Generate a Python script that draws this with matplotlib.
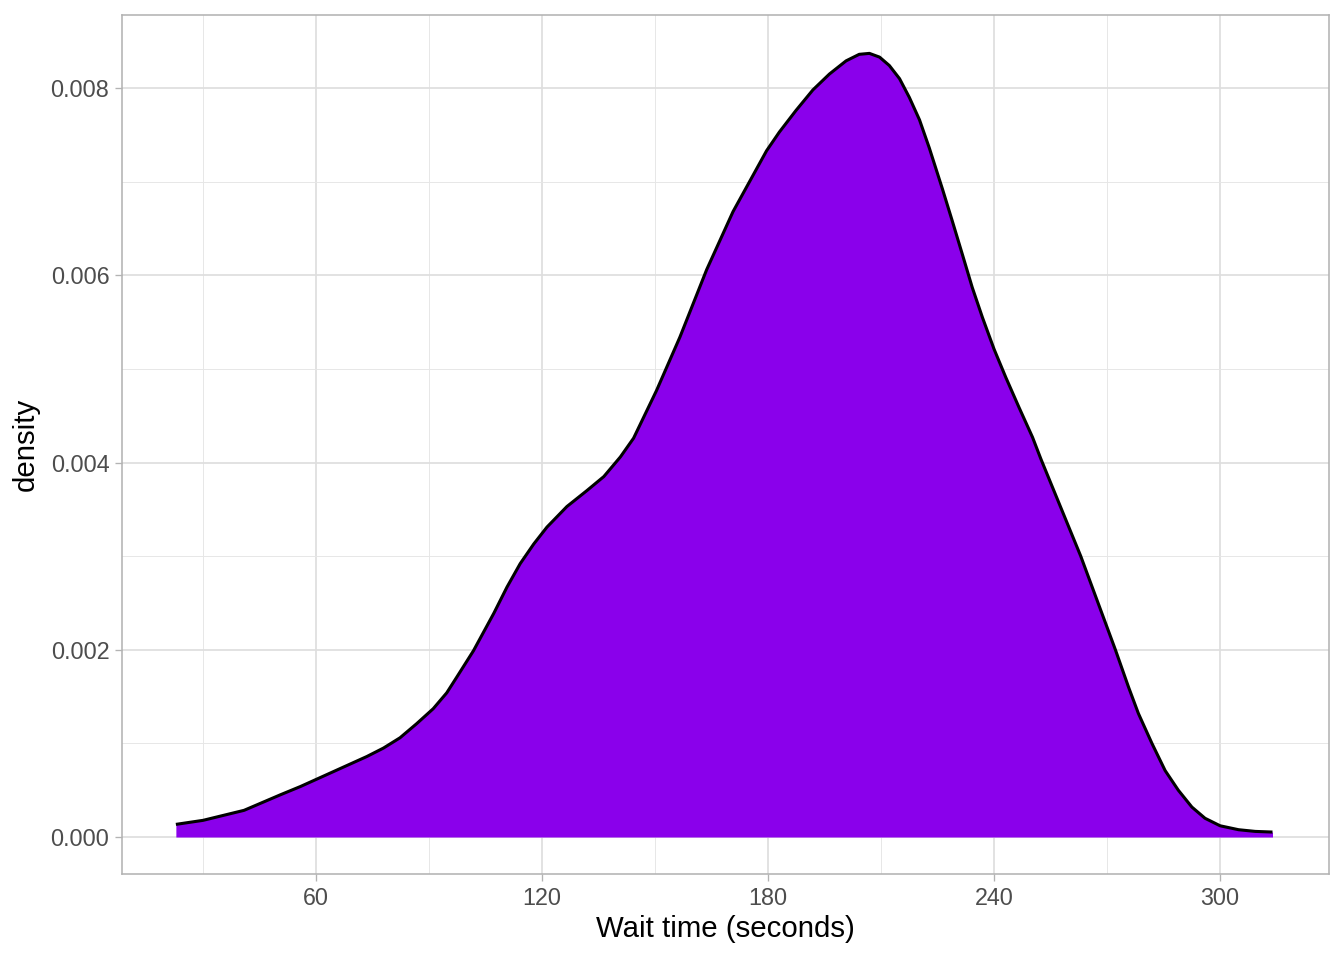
import matplotlib
matplotlib.use("Agg")
import matplotlib.pyplot as plt
from matplotlib.ticker import FixedLocator

# Density curve
wait_time = [22.8, 30, 40.9, 50.6, 55.9, 60.3, 64.7, 69.1, 73.5, 77.9, 82.3,
             86.7, 91.1, 94.7, 97.4, 101.8, 107.2, 110.7, 114.2, 117.8, 121.3,
             126.6, 131.9, 136.4, 140.8, 144.3, 150.4, 156.6, 163.7, 170.7,
             179.6, 183, 187.4, 191.9, 196.3, 200.7, 204.2, 206.9, 209.6, 212.2,
             214.9, 217.5, 220.2, 222.8, 226.3, 228.9, 231.6, 234.2, 236.9, 240,
             243.1, 246.6, 250.2, 252.4, 263, 272.2, 275.7, 278.3, 281.9, 285.4,
             288.9, 292.5, 296, 300, 304.9, 309.3, 313.9]
density = [0.000135, 0.000178, 0.000285, 0.000452, 0.00054, 0.00062, 0.00070,
           0.00078, 0.00086, 0.00095, 0.00106, 0.00121, 0.00137, 0.00154,
           0.00171, 0.00199, 0.00239, 0.00267, 0.00292, 0.00313, 0.00331,
           0.00353, 0.00370, 0.00385, 0.00406, 0.00426, 0.00477, 0.00534,
           0.00606, 0.00668, 0.00733, 0.00753, 0.00776, 0.00798, 0.00815,
           0.00829, 0.00836, 0.00837, 0.00833, 0.00824, 0.00810, 0.00790,
           0.00766, 0.00736, 0.00692, 0.00658, 0.00622, 0.00587, 0.00555,
           0.00521, 0.00491, 0.00459, 0.00427, 0.00404, 0.00300, 0.00200,
           0.00160, 0.00132, 0.00100, 0.00071, 0.00050, 0.00032, 0.00020,
           0.00012, 0.000078, 0.00006, 0.000053]

x_major = [60, 120, 180, 240, 300]
x_minor = [30, 90, 150, 210, 270]
y_major = [0.000, 0.002, 0.004, 0.006, 0.008]
y_minor = [0.001, 0.003, 0.005, 0.007]
y_labels = ["0.000", "0.002", "0.004", "0.006", "0.008"]

plt.rcParams['font.family'] = ['Liberation Sans', 'DejaVu Sans']

fig = plt.figure(figsize=(14, 10), dpi=96)
ax = fig.add_axes([122 / 1344, (960 - 874) / 960, 1207 / 1344, 859 / 960])

fill_col = "#8A00EB"
ax.fill_between(wait_time, 0, density, color=fill_col, linewidth=0, zorder=2)
ax.plot(wait_time, density, color="black", linewidth=2.3, zorder=3,
        solid_capstyle="butt", solid_joinstyle="round")

ax.set_xlim(8.5, 328.9)
ax.set_ylim(-0.000395, 0.00878)

ax.xaxis.set_major_locator(FixedLocator(x_major))
ax.xaxis.set_minor_locator(FixedLocator(x_minor))
ax.yaxis.set_major_locator(FixedLocator(y_major))
ax.yaxis.set_minor_locator(FixedLocator(y_minor))
ax.set_xticklabels([str(v) for v in x_major])
ax.set_yticklabels(y_labels)

ax.grid(which="major", color="#DEDEDE", linewidth=1.3, zorder=0)
ax.grid(which="minor", color="#E6E6E6", linewidth=0.7, zorder=0)
ax.set_axisbelow(True)

for s in ax.spines.values():
    s.set_color("#B3B3B3")
    s.set_linewidth(1.2)

ax.tick_params(which="major", length=5.5, width=1.0, color="#B3B3B3",
               labelsize=17.5, labelcolor="#4D4D4D", pad=4)
ax.tick_params(which="minor", length=0)

ax.set_xlabel("Wait time (seconds)", fontsize=22, color="black", labelpad=4)
ax.set_ylabel("density", fontsize=22, color="black", labelpad=8)

fig.savefig("out.png", dpi=96, facecolor="white")
